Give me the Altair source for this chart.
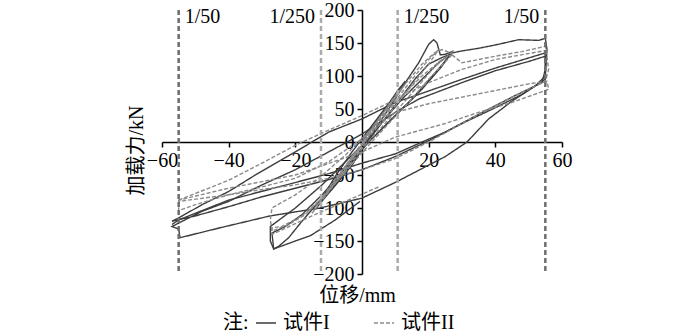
import altair as alt
import pandas as pd

# ---------------- data (displacement mm, load kN) ----------------
spec_names = ["试件I", "试件II"]

# Specimen I (solid)
i1_x = [0, 4, 8, 11, 13, 9, 3, -3, -8, -12, -13, -9, -3, 3, 9, 13]
i1_y = [0, 28, 58, 80, 92, 65, 25, -15, -52, -85, -95, -72, -35, 12, 58, 90]
i2_x = [13, 17, 20, 21.5, 22.5, 23.5, 25, 27, 24, 18, 12, 6, 0, -6, -12, -18, -22, -25, -26.5,
        -27.5, -27.5, -20, -12, -5, 0, 6, 12, 18, 23, 27]
i2_y = [90, 120, 148, 155, 150, 132, 133, 137, 115, 80, 50, 20, -10, -45, -85, -120, -145, -158, -162,
        -150, -128, -100, -65, -30, -5, 30, 65, 95, 120, 135]
i3_x = [27, 22, 15, 8, 2, -5, -12, -18, -23, -27, -26.5, -20, -15.5, -8, -0.6]
i3_y = [135, 105, 65, 30, 0, -40, -80, -110, -128, -138, -162, -150, -142, -118, -90]
i4_x = [27, 30, 35, 40, 47, 53, 55, 55.5, 55, 52, 45, 38, 31.5, 25, 20, 10.5, 0, -12.6, -27.6, -42.6, -54.6]
i4_y = [135, 138, 142, 147, 155, 154, 157, 140, 100, 85, 62, 35, 0, -22, -35, -60, -85, -100, -112, -130, -145]
i5_x = [-54.6, -55, -57, -48, -40, -30, -20, -10, 0, 10, 17, 30, 40, 50, 55, 55, 48, 40, 30, 20, 10, 0,
        -10, -20, -30, -40, -50, -57]
i5_y = [-145, -132, -128, -105, -90, -65, -42, -15, 12, 45, 65, 90, 108, 122, 130, 95, 72, 52, 28, 2, -22,
        -42, -57, -70, -83, -98, -112, -120]
i6_x = [-57, -55, -48, -40, -32, -20, -10, 0, 10, 17, 30, 40, 55, 55, 54, 45, 35, 25, 18, 10, 0, -10,
        -25, -40, -55, -57]
i6_y = [-120, -115, -95, -75, -50, -15, 15, 35, 60, 72, 95, 112, 135, 110, 90, 68, 42, 15, 0, -18, -32,
        -48, -68, -88, -118, -125]
i7_x = [-14, -8, -2, 4, 10, 16, 20, 24, 27]
i7_y = [-102, -64, -24, 16, 56, 96, 118, 128, 134]

# Specimen II (dashed)
j1_x = [0, 5, 10, 13, 9, 3, -3, -9, -13, -8, -2, 4, 10, 13]
j1_y = [0, 35, 68, 88, 60, 18, -22, -65, -95, -62, -18, 28, 70, 88]
j2_x = [13, 18, 22, 24, 26, 27, 22, 16, 10, 4, 0, -6, -12, -17, -22, -27, -27.5, -27, -20, -13, -5, 0,
        6, 12, 18, 24, 27]
j2_y = [88, 118, 136, 140, 136, 136, 115, 80, 45, 12, -10, -50, -85, -110, -125, -135, -118, -100, -80,
        -55, -20, 5, 35, 70, 100, 125, 132]
j3_x = [27, 20, 14, 8, 2, -5, -12, -18, -24, -27, -27, -15, 0, 5]
j3_y = [132, 95, 60, 28, -5, -45, -85, -112, -128, -130, -140, -112, -79, -68]
j4_x = [27, 30, 40, 48, 55, 56, 55, 45, 35, 20, 10, 0, -10, -20, -30, -40, -55]
j4_y = [132, 120, 130, 137, 145, 110, 92, 68, 42, 0, -25, -42, -55, -65, -72, -80, -90]
j5_x = [-55, -55, -50, -40, -30, -20, -10, 0, 10, 20, 30, 40, 50, 55.5, 56, 55, 45, 35, 25, 10, 0, -20,
        -40, -55, -55]
j5_y = [-90, -104, -95, -80, -68, -55, -30, 5, 45, 58, 68, 78, 88, 92, 80, 78, 60, 45, 28, 7.5, -15, -50,
        -70, -88, -104]
j6_x = [-55, -50, -40, -30, -20, -10, 0, 10, 20, 30, 40, 55.5]
j6_y = [-88, -78, -58, -32, -5, 18, 40, 64, 90, 110, 125, 139]
j7_x = [-15, -10, -5, 0, 5, 10, 15, 20, 23, 20, 14, 8, 2, -4, -10, -15]
j7_y = [-108, -75, -40, -5, 30, 62, 95, 125, 140, 118, 80, 42, 8, -30, -70, -108]

drift_x = [-55, -12.3, 10.7, 55]
drift_label = ["1/50", "1/250", "1/250", "1/50"]

x_ticks = [-60, -40, -20, 20, 40, 60]
y_ticks = [-200, -150, -100, -50, 0, 50, 100, 150, 200]

# ---------------- build tables ----------------
paths = [(spec_names[0], p) for p in [(i1_x, i1_y), (i2_x, i2_y), (i3_x, i3_y), (i4_x, i4_y),
                                      (i5_x, i5_y), (i6_x, i6_y), (i7_x, i7_y)]]
paths += [(spec_names[1], p) for p in [(j1_x, j1_y), (j2_x, j2_y), (j3_x, j3_y), (j4_x, j4_y),
                                       (j5_x, j5_y), (j6_x, j6_y), (j7_x, j7_y)]]
rows = []
for pid, (name, (xs_, ys_)) in enumerate(paths):
    for k, (a, b) in enumerate(zip(xs_, ys_)):
        rows.append({"spec": name, "path": pid, "order": k, "disp": a, "load": b})
df = pd.DataFrame(rows)
drift_df = pd.DataFrame({"disp": drift_x, "label": drift_label})

SERIF = "Liberation Serif, Noto Sans CJK SC"
xs = alt.Scale(domain=[-60, 60], nice=False, zero=False)
ys = alt.Scale(domain=[-200, 200], nice=False, zero=False)

x_axis = alt.Axis(orient="bottom", offset=-132, values=x_ticks, tickSize=5, tickWidth=1.5,
                  tickColor="black", domainColor="black", domainWidth=1.5, grid=False,
                  labelFont=SERIF, labelFontSize=20, labelColor="black", labelPadding=3,
                  labelFlush=False, labelOverlap=False,
                  title="位移/mm", titleFont=SERIF, titleFontSize=20, titleFontWeight="normal",
                  titleColor="black", titleX=195, titleY=153, titleAlign="center",
                  titleBaseline="middle")
y_axis = alt.Axis(orient="left", offset=-200, values=y_ticks, tickSize=5, tickWidth=1.5,
                  tickColor="black", domainColor="black", domainWidth=1.5, grid=False,
                  labelFont=SERIF, labelFontSize=20, labelColor="black", labelPadding=3,
                  labelFlush=False, labelOverlap=False,
                  title="加载力/kN", titleFont=SERIF, titleFontSize=20, titleFontWeight="normal",
                  titleColor="black", titleX=-226, titleY=140, titleAlign="center",
                  titleBaseline="middle", titleAngle=270)

legend = alt.Legend(title="注:", orient="none", legendX=61, legendY=302, direction="horizontal",
                    titleOrient="left", titleFont=SERIF, titleFontSize=20, titleFontWeight="normal",
                    titleColor="black", titlePadding=6, labelFont=SERIF, labelFontSize=20,
                    labelColor="black", symbolType="stroke", symbolSize=400, symbolStrokeWidth=1.6,
                    columnPadding=40, labelOffset=6)

lines = alt.Chart(df).mark_line(strokeWidth=1.4).encode(
    x=alt.X("disp:Q", scale=xs, axis=x_axis),
    y=alt.Y("load:Q", scale=ys, axis=y_axis),
    detail="path:N",
    order="order:Q",
    color=alt.Color("spec:N", scale=alt.Scale(domain=spec_names, range=["#3d3d3d", "#8a8a8a"]),
                    legend=legend),
    strokeDash=alt.StrokeDash("spec:N", scale=alt.Scale(domain=spec_names, range=[[1, 0], [4, 2]]),
                              legend=legend),
)

def rule_layer(label, colour):
    return alt.Chart(drift_df).transform_filter(alt.datum.label == label).mark_rule(
        strokeDash=[5, 3], strokeWidth=2.5, color=colour).encode(
        x=alt.X("disp:Q", scale=xs, axis=x_axis),
        y=alt.YDatum(200, scale=ys, axis=y_axis),
        y2=alt.Y2Datum(-200),
    )

rules = rule_layer("1/50", "#6e6e6e") + rule_layer("1/250", "#ababab")

left_txt = alt.Chart(drift_df).transform_filter(
    "(datum.disp < 0 && datum.label == '1/50') || (datum.disp > 0 && datum.label == '1/250')"
).mark_text(align="left", baseline="middle", dx=6, font=SERIF, fontSize=20, color="black").encode(
    x=alt.X("disp:Q", scale=xs, axis=x_axis),
    y=alt.YDatum(189, scale=ys, axis=y_axis),
    text="label:N",
)
right_txt = alt.Chart(drift_df).transform_filter(
    "(datum.disp > 0 && datum.label == '1/50') || (datum.disp < 0 && datum.label == '1/250')"
).mark_text(align="right", baseline="middle", dx=-6, font=SERIF, fontSize=20, color="black").encode(
    x=alt.X("disp:Q", scale=xs, axis=x_axis),
    y=alt.YDatum(189, scale=ys, axis=y_axis),
    text="label:N",
)

chart = alt.layer(lines, rules, left_txt, right_txt).properties(
    width=400, height=264,
    autosize=alt.AutoSizeParams(type="none"),
    padding={"left": 162, "top": 10, "right": 138, "bottom": 58},
    background="white",
).configure_view(stroke=None)

chart.save("out.html", embed_options={"renderer": "svg", "actions": False})
